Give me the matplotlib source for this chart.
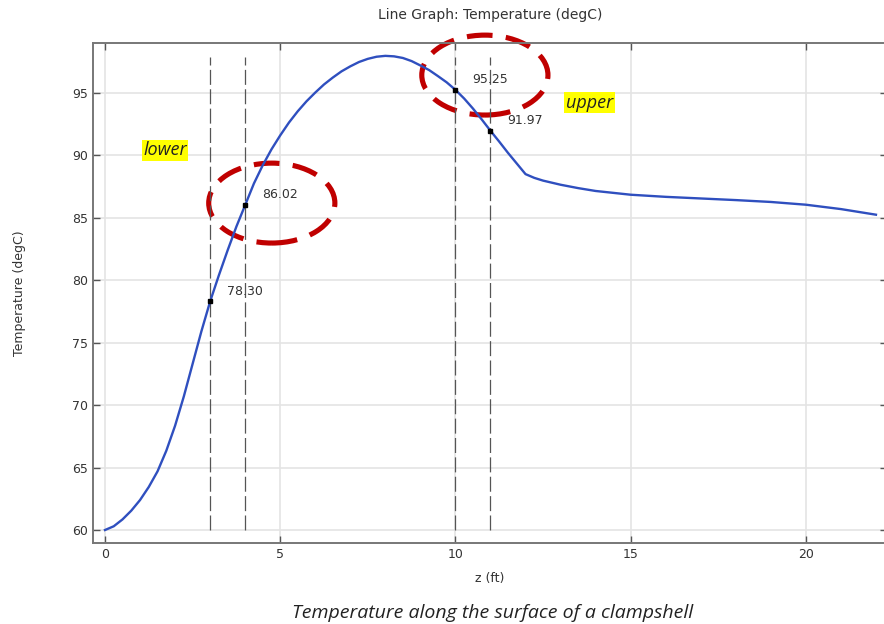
import matplotlib.pyplot as plt
from matplotlib.patches import Ellipse

# Temperature profile along z (ft)
z_ft = [0, 0.25, 0.5, 0.75, 1, 1.25, 1.5, 1.75, 2, 2.25, 2.5, 2.75, 3,
        3.25, 3.5, 3.75, 4, 4.25, 4.5, 4.75, 5, 5.25, 5.5, 5.75, 6, 6.25,
        6.5, 6.75, 7, 7.25, 7.5, 7.75, 8, 8.25, 8.5, 8.75, 9, 9.25, 9.5,
        9.75, 10, 10.25, 10.5, 10.75, 11, 11.25, 11.5, 11.75, 12, 12.25,
        12.5, 13, 13.5, 14, 15, 16, 17, 18, 19, 20, 21, 22]
temp_c = [60.0, 60.3, 60.85, 61.55, 62.4, 63.45, 64.7, 66.35, 68.35, 70.7,
          73.3, 75.9, 78.30, 80.4, 82.4, 84.3, 86.02, 87.75, 89.2, 90.48,
          91.6, 92.63, 93.53, 94.33, 95.03, 95.68, 96.23, 96.73, 97.13,
          97.48, 97.73, 97.9, 97.97, 97.93, 97.8, 97.55, 97.2, 96.83, 96.35,
          95.85, 95.25, 94.55, 93.75, 92.88, 91.97, 91.1, 90.2, 89.35, 88.5,
          88.2, 87.98, 87.65, 87.38, 87.15, 86.85, 86.68, 86.55, 86.42,
          86.27, 86.05, 85.7, 85.25]

# probe positions and values
probe_z = [3, 4, 10, 11]
probe_t = [78.30, 86.02, 95.25, 91.97]
probe_lbl = ['78.30', '86.02', '95.25', '91.97']

xticks = [0, 5, 10, 15, 20]
yticks = [60, 65, 70, 75, 80, 85, 90, 95]

fig = plt.figure(figsize=(8.84, 6.24), dpi=100)
ax = fig.add_axes([0.1052, 0.1298, 0.898, 0.8013])

ax.set_xlim(-0.342, 22.31)
ax.set_ylim(58.96, 99.0)
ax.set_xticks(xticks)
ax.set_yticks(yticks)
ax.grid(True, color='#e4e4e4', linewidth=1.2)
ax.set_axisbelow(True)
ax.tick_params(direction='in', length=5, width=1, colors='#555555',
               labelcolor='#333333', labelsize=9, top=True, right=True)
for s in ax.spines.values():
    s.set_color('#777777')
    s.set_linewidth(1.4)

# vertical probe lines
for zp in probe_z:
    ax.vlines(zp, 60, 97.9, colors='#555555', linewidth=0.9,
              linestyles=(0, (12, 3.5)))

ax.plot(z_ft, temp_c, color='#2f4fbf', linewidth=1.7)
ax.plot(probe_z, probe_t, 's', color='black', markersize=2.5)
for zp, tp, lb in zip(probe_z, probe_t, probe_lbl):
    ax.annotate(lb, (zp, tp), xytext=(12, 5), textcoords='offset points',
                fontsize=9, color='#333333')

# highlight circles
for cx, cy in [(4.76, 86.18), (10.84, 96.43)]:
    e = Ellipse((cx, cy), 3.6, 6.4, fill=False, edgecolor='#c00000',
                linewidth=3.7, linestyle=(0, (5, 2.6)), clip_on=False)
    ax.add_patch(e)

ax.text(1.09, 90.4, 'lower', fontsize=13, style='italic', family='Open Sans',
        color='#222222', va='center',
        bbox=dict(facecolor='#ffff00', edgecolor='none', pad=1))
ax.text(13.15, 94.2, 'upper', fontsize=13, style='italic', family='Open Sans',
        color='#222222', va='center',
        bbox=dict(facecolor='#ffff00', edgecolor='none', pad=1))

ax.set_title('Line Graph: Temperature (degC)', fontsize=10, color='#333333',
             pad=17)
ax.set_xlabel('z (ft)', fontsize=9, color='#333333', labelpad=8)
ax.set_ylabel('Temperature (degC)', fontsize=9, color='#333333', labelpad=33)

fig.text(0.557, 0.004, 'Temperature along the surface of a clampshell',
         fontsize=14, style='italic', family='Open Sans', color='#222222',
         ha='center', va='bottom')

fig.savefig('out.png', dpi=100)
